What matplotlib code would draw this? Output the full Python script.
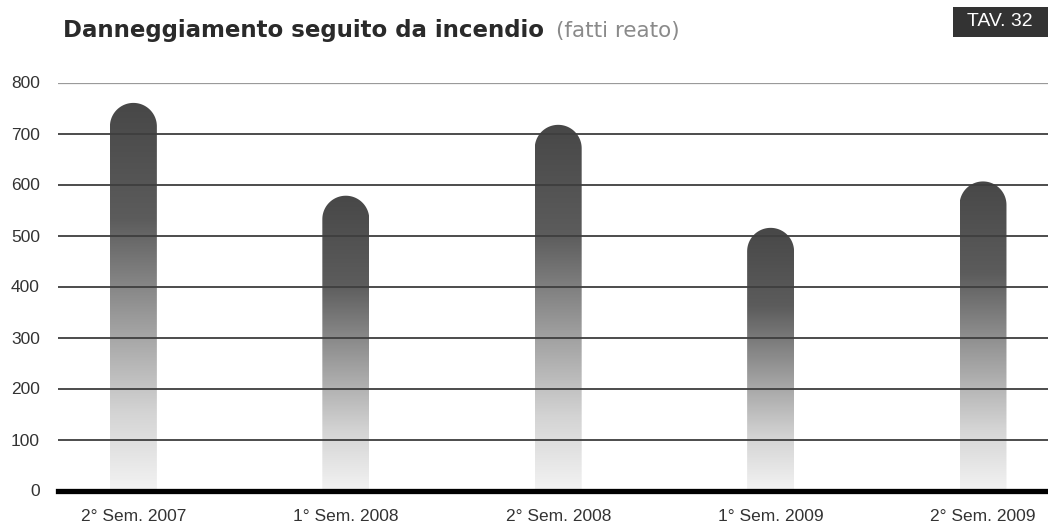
import numpy as np
import matplotlib
matplotlib.use("Agg")
import matplotlib.pyplot as plt
from matplotlib.path import Path
from matplotlib.patches import PathPatch, Rectangle
from matplotlib.colors import LinearSegmentedColormap

categories = ["2° Sem. 2007", "1° Sem. 2008", "2° Sem. 2008", "1° Sem. 2009", "2° Sem. 2009"]
values = [760, 578, 717, 515, 606]
yticks = [0, 100, 200, 300, 400, 500, 600, 700, 800]
title_bold = "Danneggiamento seguito da incendio"
title_light = "(fatti reato)"
tav_label = "TAV. 32"

W, H = 1048, 525
fig = plt.figure(figsize=(W / 100, H / 100), dpi=100)
fig.patch.set_facecolor("white")

x0, x1 = 58, 1048
y0, y1 = 490.5, 82.5
ax = fig.add_axes([x0 / W, (H - y0) / H, (x1 - x0) / W, (y0 - y1) / H])
ax.set_xlim(-0.355, 4.306)
ax.set_ylim(0, 800)
for s in ax.spines.values():
    s.set_visible(False)

tick_font = ["Liberation Sans", "DejaVu Sans"]
ax.set_yticks(yticks)
ax.set_yticklabels([str(v) for v in yticks], fontsize=12.5, color="#333333", family=tick_font)
ax.set_xticks(range(len(categories)))
ax.set_xticklabels(categories, fontsize=12.5, color="#333333", family=tick_font)
ax.tick_params(axis="both", length=0)
ax.tick_params(axis="y", pad=13)
ax.tick_params(axis="x", pad=13)

# gridlines over bars
for v in yticks[1:]:
    if v == 800:
        ax.axhline(v, color="#9a9a9a", lw=0.9, zorder=5)
    else:
        ax.axhline(v, color="#3e3e3e", lw=1.3, zorder=5)
ax.axhline(0, color="#000000", lw=3.8, zorder=6, clip_on=False)

# bar geometry
bw = 0.221
px_per_x = (x1 - x0) / (4.306 + 0.355)
px_per_y = (y0 - y1) / 800.0
rx = bw / 2
ry = rx * px_per_x / px_per_y

cmap = LinearSegmentedColormap.from_list(
    "g",
    [(0.0, (0.95, 0.95, 0.95)), (0.2, (0.83, 0.83, 0.83)), (0.45, (0.60, 0.60, 0.60)),
     (0.7, (0.36, 0.36, 0.36)), (1.0, (0.28, 0.28, 0.28))])
grad = np.linspace(0, 1, 256).reshape(-1, 1)

for i, v in enumerate(values):
    left, right = i - bw / 2, i + bw / 2
    yb = v - ry
    t = np.linspace(np.pi, 0, 60)
    verts = [(left, 0), (left, yb)] + [(i + rx * np.cos(a), yb + ry * np.sin(a)) for a in t] + [(right, 0), (left, 0)]
    codes = [Path.MOVETO] + [Path.LINETO] * (len(verts) - 2) + [Path.CLOSEPOLY]
    path = Path(verts, codes)
    patch = PathPatch(path, facecolor="none", edgecolor="none")
    ax.add_patch(patch)
    im = ax.imshow(grad, cmap=cmap, vmin=0, vmax=1, origin="lower", aspect="auto",
                   extent=[left, right, 0, v], zorder=2, interpolation="bilinear")
    im.set_clip_path(patch)

ax.set_xlim(-0.355, 4.306)
ax.set_ylim(0, 800)

# title
t1 = fig.text(63 / W, 1 - 37 / H, title_bold, fontsize=16.5, fontweight="bold",
              color="#2a2a2a", family="DejaVu Sans", va="baseline", ha="left")
fig.canvas.draw()
bb = t1.get_window_extent()
fig.text((bb.x1 + 12) / W, 1 - 37 / H, title_light, fontsize=15.5, color="#8a8a8a",
         family="DejaVu Sans", va="baseline", ha="left")

# TAV box
fig.patches.append(Rectangle((953 / W, 1 - 37 / H), (1048 - 953) / W, 30 / H,
                             transform=fig.transFigure, facecolor="#333333",
                             edgecolor="none"))
fig.text(1000 / W, 1 - 22 / H, tav_label, fontsize=14, color="white",
         family=["Liberation Sans Narrow", "Liberation Sans"], ha="center", va="center")

fig.savefig("out.png", dpi=100, facecolor="white")
